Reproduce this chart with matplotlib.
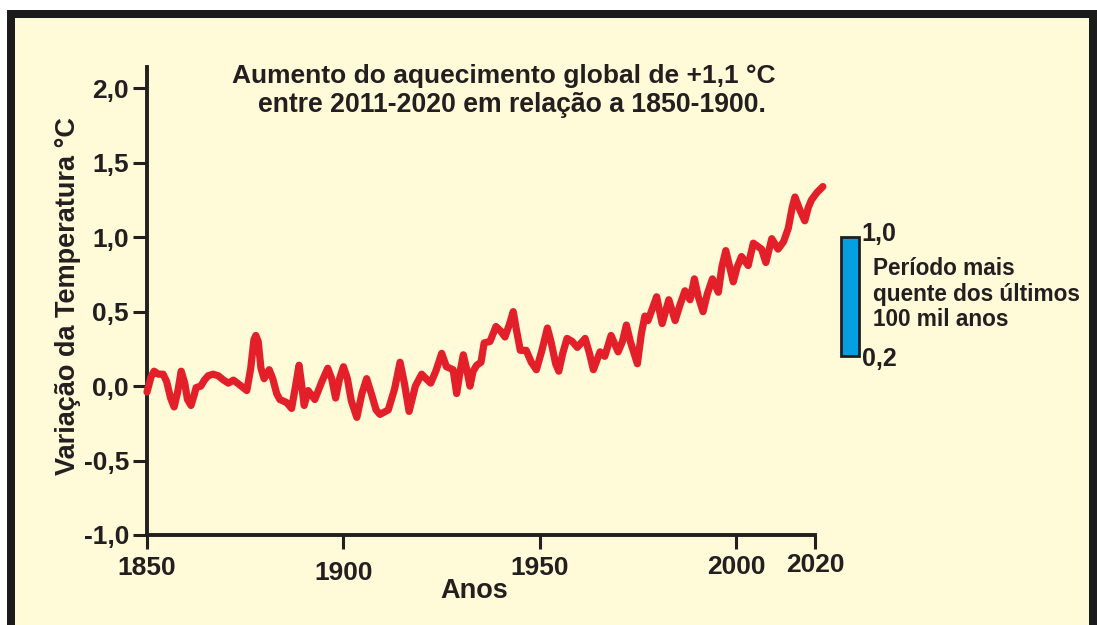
import matplotlib
matplotlib.use('Agg')
import matplotlib.pyplot as plt
from matplotlib.patches import Rectangle
import matplotlib.transforms as mtransforms

# ---------------- data ----------------
years = [1850.0, 1851.0, 1851.8, 1852.9, 1854.1, 1855.0, 1856.0, 1856.9, 1857.8, 1858.7,
         1859.6, 1860.3, 1861.2, 1862.0, 1862.5, 1863.7, 1864.6, 1865.6, 1866.8, 1868.1,
         1869.5, 1870.7, 1872.0, 1873.5, 1875.4, 1876.4, 1877.2, 1877.7, 1878.3, 1879.0,
         1879.8, 1881.1, 1882.0, 1883.0, 1883.8, 1885.5, 1886.8, 1887.8, 1888.7, 1889.4,
         1890.0, 1891.0, 1892.7, 1894.5, 1896.0, 1897.0, 1898.0, 1899.0, 1900.0, 1901.0,
         1902.0, 1903.4, 1904.7, 1905.9, 1907.2, 1908.3, 1909.3, 1911.4, 1913.0, 1914.4,
         1915.5, 1916.7, 1918.3, 1919.9, 1921.0, 1922.2, 1923.5, 1925.0, 1926.2, 1927.9,
         1928.8, 1929.7, 1930.5, 1931.3, 1932.2, 1933.0, 1933.9, 1935.0, 1935.8, 1937.3,
         1938.8, 1940.0, 1941.1, 1942.3, 1943.2, 1944.0, 1945.0, 1946.5, 1947.8, 1949.1,
         1950.5, 1951.9, 1952.8, 1954.0, 1954.8, 1955.8, 1956.9, 1958.2, 1959.5, 1961.5,
         1962.6, 1963.6, 1965.3, 1966.5, 1968.1, 1969.9, 1971.0, 1972.0, 1973.0, 1974.8,
         1975.8, 1976.7, 1977.5, 1978.6, 1979.7, 1981.1, 1982.8, 1984.4, 1985.7, 1986.9,
         1988.2, 1989.3, 1990.3, 1991.5, 1992.6, 1993.9, 1995.4, 1996.3, 1997.3, 1998.3,
         1999.2, 2000.2, 2001.3, 2003.0, 2004.3, 2006.4, 2007.5, 2009.0, 2010.6, 2012.0,
         2013.2, 2014.2, 2014.9, 2016.2, 2017.4, 2018.3, 2019.1, 2020.5, 2022.0]
anomaly = [-0.04, 0.06, 0.10, 0.08, 0.08, 0.03, -0.08, -0.14, -0.04, 0.10,
           0.02, -0.09, -0.13, -0.06, -0.01, 0.00, 0.04, 0.07, 0.08, 0.07,
           0.04, 0.02, 0.04, 0.01, -0.03, 0.12, 0.31, 0.34, 0.30, 0.12,
           0.05, 0.11, 0.05, -0.05, -0.09, -0.11, -0.15, 0.00, 0.14, 0.00,
           -0.13, -0.03, -0.09, 0.03, 0.12, 0.05, -0.08, 0.05, 0.13, 0.05,
           -0.10, -0.21, -0.05, 0.05, -0.06, -0.16, -0.19, -0.16, -0.02, 0.16,
           0.02, -0.17, 0.00, 0.08, 0.05, 0.02, 0.10, 0.22, 0.13, 0.11,
           -0.05, 0.10, 0.21, 0.12, 0.00, 0.10, 0.14, 0.16, 0.29, 0.30,
           0.40, 0.37, 0.33, 0.42, 0.50, 0.38, 0.24, 0.24, 0.16, 0.11,
           0.24, 0.39, 0.30, 0.15, 0.10, 0.22, 0.32, 0.30, 0.26, 0.32,
           0.22, 0.11, 0.23, 0.20, 0.34, 0.23, 0.30, 0.41, 0.30, 0.15,
           0.35, 0.47, 0.44, 0.52, 0.60, 0.42, 0.58, 0.44, 0.55, 0.64,
           0.58, 0.72, 0.60, 0.50, 0.62, 0.72, 0.63, 0.80, 0.91, 0.80,
           0.70, 0.80, 0.87, 0.81, 0.96, 0.92, 0.83, 0.99, 0.92, 0.97,
           1.06, 1.20, 1.27, 1.18, 1.11, 1.20, 1.25, 1.30, 1.34]

x_ticks = [1850, 1900, 1950, 2000, 2020]
x_ticklabels = ['1850', '1900', '1950', '2000', '2020']
y_ticks = [-1.0, -0.5, 0.0, 0.5, 1.0, 1.5, 2.0]
y_ticklabels = ['-1,0', '-0,5', '0,0', '0,5', '1,0', '1,5', '2,0']
warm_period = [0.2, 1.0]          # range of the blue bar
warm_labels = ['0,2', '1,0']

title_lines = ['Aumento do aquecimento global de +1,1 °C',
               'entre 2011-2020 em relação a 1850-1900.']
ylabel = 'Variação da Temperatura °C'
xlabel = 'Anos'
warm_text = ['Período mais', 'quente dos últimos', '100 mil anos']

# ---------------- style ----------------
W, H = 1097, 625
CREAM = '#FFFAD8'
DARK = '#231F20'
RED = '#E3202A'
BLUE = '#06A0E2'
FONT = ['Liberation Sans', 'DejaVu Sans']
plt.rcParams['font.family'] = FONT
plt.rcParams['font.weight'] = 'bold'

fig = plt.figure(figsize=(W / 100, H / 100), dpi=100)
fig.patch.set_facecolor('white')


def fx(x):
    return x / W


def fy(y):
    return 1 - y / H


# frame
fig.patches.append(Rectangle((fx(7), 0), fx(W) - fx(7), fy(10), transform=fig.transFigure,
                             facecolor='#1b1b1b', edgecolor='none', zorder=-3))
fig.patches.append(Rectangle((fx(15), 0), fx(1089) - fx(15), fy(18), transform=fig.transFigure,
                             facecolor=CREAM, edgecolor='none', zorder=-2))

ax = fig.add_axes([fx(147), fy(535), fx(815) - fx(147), fy(67) - fy(535)])
ax.patch.set_alpha(0)
ax.set_xlim(1850, 2020)
ax.set_ylim(-1.0, 2.143)

for s in ['top', 'right']:
    ax.spines[s].set_visible(False)
for s in ['left', 'bottom']:
    ax.spines[s].set_linewidth(2.8)
    ax.spines[s].set_color(DARK)
    ax.spines[s].set_capstyle('projecting')

ax.plot(years, anomaly, color=RED, lw=5.2, solid_joinstyle='round',
        solid_capstyle='round', clip_on=False, zorder=3)

ax.set_xticks(x_ticks)
ax.set_xticklabels(x_ticklabels)
ax.set_yticks(y_ticks)
ax.set_yticklabels(y_ticklabels)
ax.tick_params(axis='both', direction='out', length=10, width=2.2, color=DARK,
               labelsize=19, labelcolor=DARK)
ax.tick_params(axis='y', pad=3)
ax.tick_params(axis='x', pad=5)
for lab in ax.get_xticklabels() + ax.get_yticklabels():
    lab.set_fontweight('bold')

# slight vertical offsets of the year labels as in the reference
offsets = {'1900': -5, '1950': 0, '2000': 1, '2020': 3, '1850': 0}
for lab in ax.get_xticklabels():
    dy = offsets.get(lab.get_text(), 0)
    lab.set_transform(lab.get_transform() +
                      mtransforms.ScaledTranslation(0, dy / 100, fig.dpi_scale_trans))

# axis labels
fig.text(fx(68), fy(296), ylabel, rotation=90, ha='center', va='center',
         fontsize=19.5, fontweight='bold', color=DARK)
fig.text(fx(474), fy(591), xlabel, ha='center', va='center',
         fontsize=19.5, fontweight='bold', color=DARK)

# title
fig.text(fx(504), fy(76), title_lines[0], ha='center', va='center',
         fontsize=19, fontweight='bold', color=DARK)
fig.text(fx(512), fy(105), title_lines[1], ha='center', va='center',
         fontsize=19.2, fontweight='bold', color=DARK)

# blue bar: warmest period of the last 100 000 years
ax.add_patch(Rectangle((2026.6, warm_period[0]), 4.6, warm_period[1] - warm_period[0],
                       facecolor=BLUE, edgecolor=DARK, lw=2, clip_on=False, zorder=3))
ax.text(2031.9, warm_period[1] + 0.02, warm_labels[1], ha='left', va='center',
        fontsize=18, fontweight='bold', color=DARK, clip_on=False)
ax.text(2031.9, warm_period[0] - 0.02, warm_labels[0], ha='left', va='center',
        fontsize=18, fontweight='bold', color=DARK, clip_on=False)
for i, line in enumerate(warm_text):
    fig.text(fx(873), fy(275 + 25.5 * i), line, ha='left', va='baseline',
             fontsize=16.3, fontweight='bold', color=DARK)

fig.savefig('out.png', dpi=100, facecolor=fig.get_facecolor())
